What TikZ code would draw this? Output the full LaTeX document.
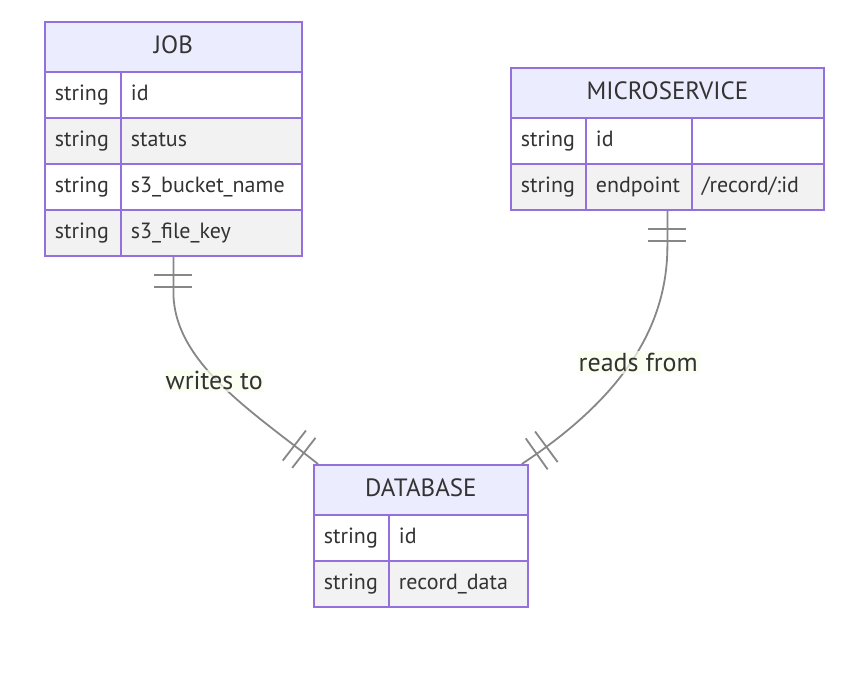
\documentclass[tikz,border=0pt]{standalone}
\usepackage{fontspec}
\setmainfont{PT Sans}
\usetikzlibrary{decorations.markings}

\definecolor{erborder}{HTML}{9370DB}
\definecolor{erheadfill}{HTML}{ECECFF}
\definecolor{errowgrey}{HTML}{F2F2F2}
\definecolor{ertext}{HTML}{333333}
\definecolor{erline}{HTML}{878787}
\definecolor{erlabel}{HTML}{F9FFEC}

\begin{document}
\begin{tikzpicture}[
        x=1pt, y=-1pt,
        every node/.style={font=\fontsize{22}{26}\selectfont, text=ertext},
        tablehead/.style={draw=erborder, fill=erheadfill, line width=1.8pt, anchor=north west,
            minimum height=50pt, inner sep=0pt, text height=18pt, text depth=5pt,
            font=\fontsize{25}{30}\selectfont},
        rowwhite/.style={draw=erborder, fill=white, line width=1.8pt, anchor=north west,
            minimum height=46pt, inner xsep=10pt, inner ysep=0pt, align=left,
            text height=16pt, text depth=5pt},
        rowgrey/.style={rowwhite, fill=errowgrey},
        relline/.style={draw=erline, line width=1.8pt},
        onlyone/.style={postaction={decorate}, decoration={markings,
            mark=at position 18pt with {\draw[relline] (0,-19pt) -- (0,19pt);},
            mark=at position 30pt with {\draw[relline] (0,-19pt) -- (0,19pt);},
            mark=at position -18pt with {\draw[relline] (0,-19pt) -- (0,19pt);},
            mark=at position -30pt with {\draw[relline] (0,-19pt) -- (0,19pt);}}},
        edgelabel/.style={fill=erlabel, fill opacity=0.7, text opacity=1, inner xsep=1pt, inner ysep=2pt,
            font=\fontsize{26}{30}\selectfont}
    ]

    \useasboundingbox (0,0) rectangle (862,684);

    % JOB
    \node[tablehead, minimum width=257pt] (jobhead) at (44,21) {JOB};
    \node[rowwhite, text width=56pt] (jobtype1) at (44,71) {string};
    \node[rowwhite, text width=161pt] (jobname1) at (120,71) {id};
    \node[rowgrey, text width=56pt] (jobtype2) at (44,117) {string};
    \node[rowgrey, text width=161pt] (jobname2) at (120,117) {status};
    \node[rowwhite, text width=56pt] (jobtype3) at (44,163) {string};
    \node[rowwhite, text width=161pt] (jobname3) at (120,163) {s3\_bucket\_name};
    \node[rowgrey, text width=56pt] (jobtype4) at (44,209) {string};
    \node[rowgrey, text width=161pt] (jobname4) at (120,209) {s3\_file\_key};

    % MICROSERVICE
    \node[tablehead, minimum width=313pt] (mshead) at (510,67) {MICROSERVICE};
    \node[rowwhite, text width=55pt] (mstype1) at (510,117) {string};
    \node[rowwhite, text width=86pt] (msname1) at (585,117) {id};
    \node[rowwhite, text width=112pt] (msval1) at (691,117) {};
    \node[rowgrey, text width=55pt] (mstype2) at (510,163) {string};
    \node[rowgrey, text width=86pt] (msname2) at (585,163) {endpoint};
    \node[rowgrey, text width=112pt] (msval2) at (691,163) {/record/:id};

    % DATABASE
    \node[tablehead, minimum width=214pt] (dbhead) at (313,464) {DATABASE};
    \node[rowwhite, text width=55pt] (dbtype1) at (313,514) {string};
    \node[rowwhite, text width=119pt] (dbname1) at (388,514) {id};
    \node[rowgrey, text width=55pt] (dbtype2) at (313,560) {string};
    \node[rowgrey, text width=119pt] (dbname2) at (388,560) {record\_data};

    % relations
    \draw[relline, onlyone] (jobhead.center |- jobname4.south) -- ++(0,35)
        .. controls +(0,70) and +(-68,-54) .. ([xshift=5pt]dbhead.north west)
        node[edgelabel, pos=0.5, xshift=-6pt, yshift=3pt] (writes) {writes to};
    \draw[relline, onlyone] (mshead.center |- msval2.south) -- ++(0,35)
        .. controls +(0,86) and +(95,-63) .. ([xshift=-7pt]dbhead.north east)
        node[edgelabel, pos=0.5, xshift=8pt, yshift=1pt] (reads) {reads from};
\end{tikzpicture}
\end{document}
